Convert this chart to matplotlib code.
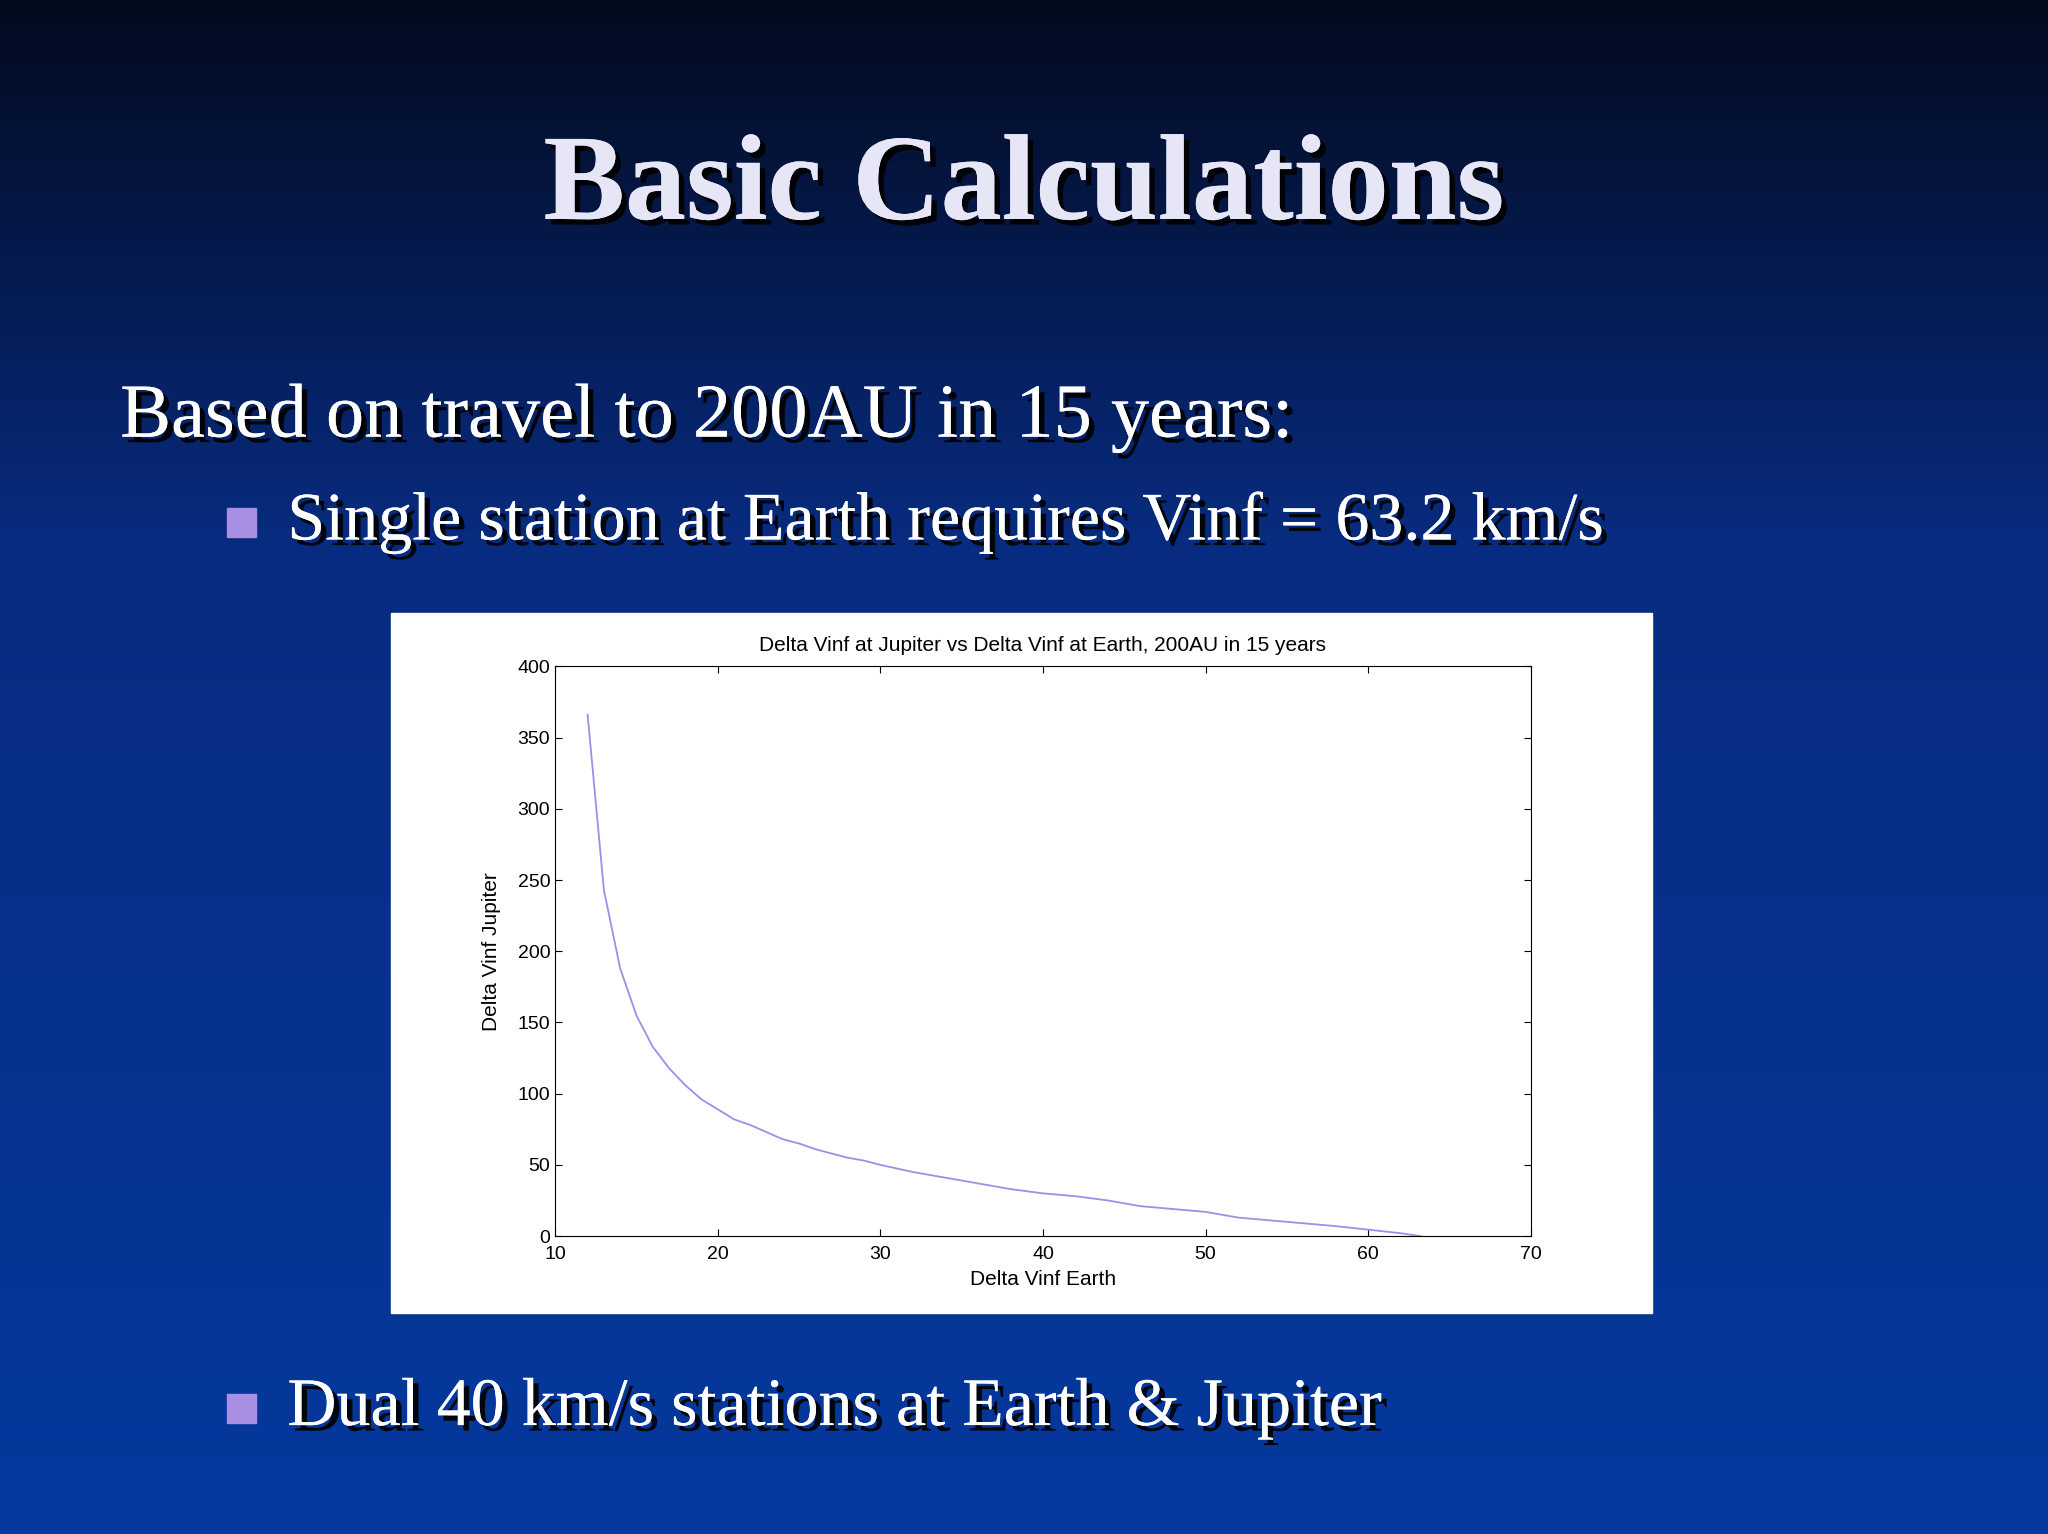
import numpy as np
import matplotlib
matplotlib.use("Agg")
import matplotlib.pyplot as plt
import matplotlib.patheffects as pe

x_earth = [12, 13, 14, 15, 16, 17, 18, 19, 20, 21, 22, 23, 24, 25, 26, 27, 28, 29, 30,
           32, 34, 36, 38, 40, 42, 44, 46, 48, 50, 52, 54, 56, 58, 60, 62, 63.2]
y_jup = [366, 243, 188, 155, 133, 118, 106, 96, 89, 82, 78, 73, 68, 65, 61, 58, 55, 53, 50,
         45, 41, 37, 33, 30, 28, 25, 21, 19, 17, 13, 11, 9, 7, 4.5, 2, 0]

W, H = 1568, 1174
fig = plt.figure(figsize=(20.48, 15.34), dpi=100)
bg = fig.add_axes([0, 0, 1, 1])
t = np.linspace(0, 1, 256)[:, None]
top = np.array([0.01, 0.04, 0.12]); mid = np.array([0.03, 0.17, 0.50]); bot = np.array([0.02, 0.22, 0.62])
img = np.where(t < 0.35, top + (mid - top) * (t / 0.35), mid + (bot - mid) * ((t - 0.35) / 0.65))
bg.imshow(np.repeat(img[:, None, :], 4, axis=1), aspect='auto', extent=[0, 1, 0, 1])
bg.set_axis_off()

serif = ['Liberation Serif', 'DejaVu Serif']
sans = ['Liberation Sans', 'DejaVu Sans']
shadow = [pe.withSimplePatchShadow(offset=(4, -4), shadow_rgbFace='black', alpha=0.9), pe.Normal()]
fig.text(784 / W, 1 - 145 / H, "Basic Calculations", family=serif, weight='bold', fontsize=88,
         color='#e6e6f6', ha='center', va='center', path_effects=shadow)
fig.text(92 / W, 1 - 320 / H, "Based on travel to 200AU in 15 years:", family=serif, fontsize=55,
         color='white', ha='left', va='center', path_effects=shadow)
for yy, s in [(400, "Single station at Earth requires Vinf = 63.2 km/s"),
              (1078, "Dual 40 km/s stations at Earth & Jupiter")]:
    fig.patches.append(plt.Rectangle((174 / W, 1 - (yy + 11) / H), 22 / W, 22 / H,
                                     transform=fig.transFigure, color='#a98fe3'))
    fig.text(220 / W, 1 - yy / H, s, family=serif, fontsize=49, color='white',
             ha='left', va='center', path_effects=shadow)

fig.patches.append(plt.Rectangle((299 / W, 1 - 1005 / H), 966 / W, 536 / H,
                                 transform=fig.transFigure, color='white', zorder=1))
ax = fig.add_axes([425 / W, 1 - 946 / H, 747 / W, 436 / H], zorder=2)
ax.plot(x_earth, y_jup, color='#9a90e8', lw=1.3)
ax.set_xlim(10, 70); ax.set_ylim(0, 400)
ax.set_xticks(range(10, 71, 10)); ax.set_yticks(range(0, 401, 50))
ax.tick_params(direction='in', top=True, right=True, labelsize=14, length=5)
ax.tick_params(axis='x', pad=7)
for lab in ax.get_xticklabels() + ax.get_yticklabels():
    lab.set_family(sans)
for s in ax.spines.values():
    s.set_linewidth(0.8)
ax.set_title("Delta Vinf at Jupiter vs Delta Vinf at Earth, 200AU in 15 years", fontsize=15, pad=11, family=sans)
ax.set_xlabel("Delta Vinf Earth", fontsize=15, labelpad=5, family=sans)
ax.set_ylabel("Delta Vinf Jupiter", fontsize=15, labelpad=12, family=sans)
fig.savefig("out.png", dpi=100)
